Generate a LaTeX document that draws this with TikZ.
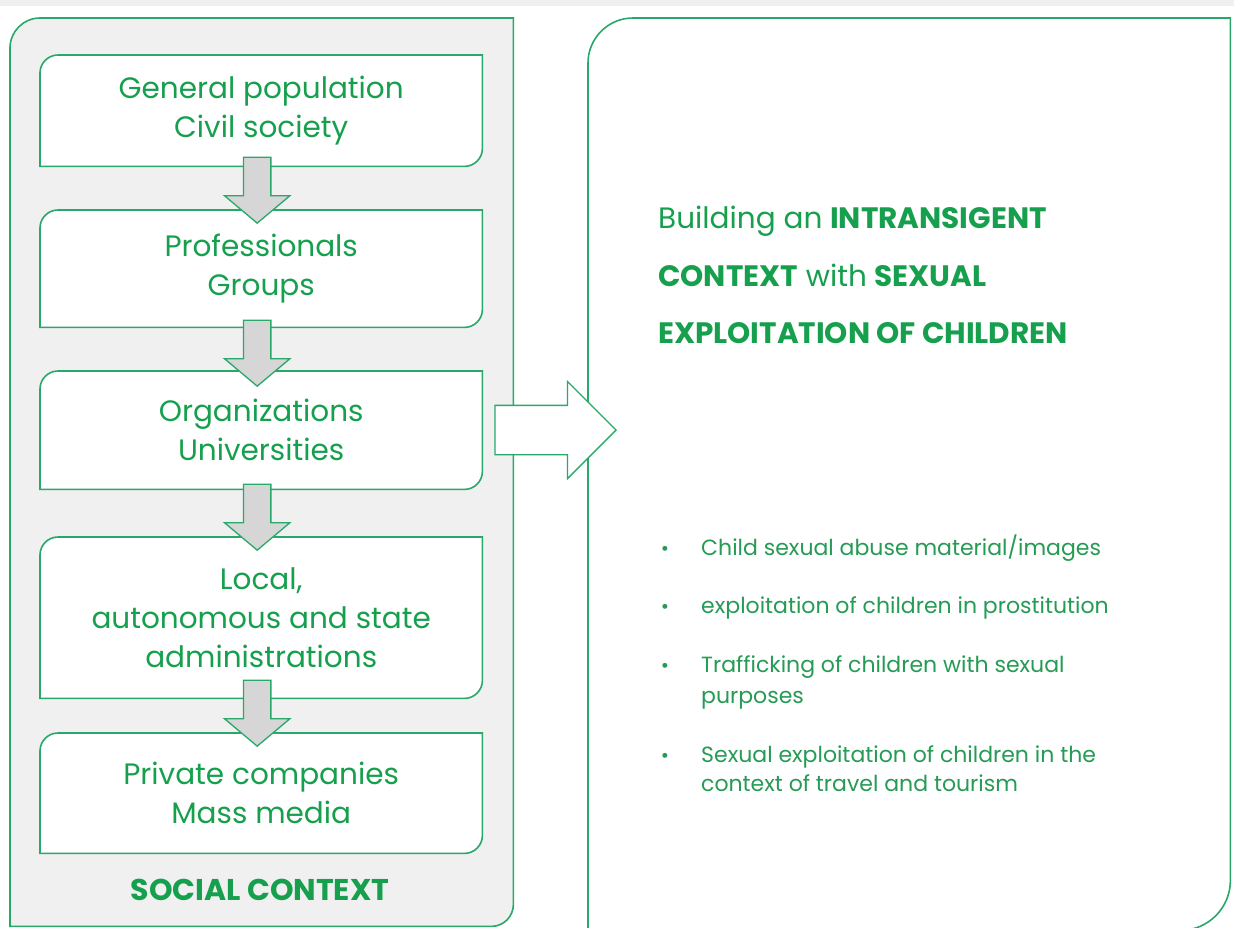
\documentclass[tikz,border=0pt]{standalone}
\usepackage{fontspec}
\setmainfont{Poppins}
\usetikzlibrary{shapes.arrows,calc}
\pgfdeclarelayer{bg}
\pgfsetlayers{bg,main}
\definecolor{txtgreen}{RGB}{22,160,78}
\definecolor{linegreen}{RGB}{40,168,105}
\definecolor{panelgrey}{RGB}{240,240,240}
\definecolor{arrowgrey}{RGB}{214,214,214}
\newcommand\diagframe[4]{%
  \filldraw[linegreen, line width=1.6pt, fill=#4] (#1.south west) -- ([yshift=-#2]#1.north west)
    arc[start angle=180,end angle=90,radius=#2] -- (#1.north east) -- ([yshift=#3]#1.south east)
    arc[start angle=0,end angle=-90,radius=#3] -- cycle;}
\tikzset{
  panel/.style={rectangle, draw=none, inner sep=0pt, anchor=north west},
  boxnode/.style={rectangle, inner sep=0pt, minimum width=442pt, anchor=north west,
    text=txtgreen, font=\fontsize{29.5}{39}\selectfont, align=center},
  downarr/.style={single arrow, draw=linegreen, fill=arrowgrey, line width=1.3pt, rotate=-90,
    minimum height=66pt, minimum width=64pt, single arrow head extend=19pt,
    inner xsep=0pt, inner ysep=13pt, single arrow tip angle=100, anchor=tip},
  rightarr/.style={single arrow, draw=linegreen, fill=white, line width=1.3pt,
    minimum height=121pt, minimum width=96pt, single arrow head extend=24pt,
    inner xsep=0pt, inner ysep=24pt, single arrow tip angle=90, anchor=tip},
  titletxt/.style={anchor=base west, inner sep=0pt, text=txtgreen, font=\fontsize{29.5}{32}\selectfont},
  bultxt/.style={anchor=base west, inner sep=0pt, text=txtgreen!85!gray, font=\fontsize{22}{29}\selectfont, align=left},
  bulmark/.style={anchor=base, inner sep=0pt, text=txtgreen!85!gray, font=\fontsize{20}{22}\selectfont},
}
\begin{document}
\begin{tikzpicture}[x=1pt,y=-1pt]
\useasboundingbox (0,0) rectangle (1234,927);
\clip (0,0) rectangle (1234,927);
\fill[gray!12] (0,0) rectangle (1234,6);
% panels
\node[panel, minimum width=503pt, minimum height=908pt] (soc) at (10,18) {};
\node[panel, minimum width=642pt, minimum height=912pt] (ctx) at (588,18) {};
% boxes
\node[boxnode, minimum height=111pt] (b1) at (40,55) {General population\\Civil society};
\node[boxnode, minimum height=117pt] (b2) at (40,210) {Professionals\\Groups};
\node[boxnode, minimum height=118pt] (b3) at (40,371) {Organizations\\Universities};
\node[boxnode, minimum height=161pt] (b4) at (40,537) {Local,\\autonomous and state\\administrations};
\node[boxnode, minimum height=120pt] (b5) at (40,733) {Private companies\\Mass media};
\node[anchor=base, inner sep=0pt, text=txtgreen, font=\fontsize{30}{32}\selectfont\bfseries] (lbl) at (260,900) {SOCIAL CONTEXT};
\begin{pgfonlayer}{bg}
  \diagframe{soc}{30pt}{22pt}{panelgrey}
  \diagframe{ctx}{45pt}{50pt}{white}
  \foreach \b in {b1,b2,b3,b4,b5} {\diagframe{\b}{18pt}{18pt}{white}}
\end{pgfonlayer}
% down arrows
\node[downarr] (a1) at ($(b2.north)+(-4,14)$) {};
\node[downarr] (a2) at ($(b3.north)+(-4,16)$) {};
\node[downarr] (a3) at ($(b4.north)+(-4,14)$) {};
\node[downarr] (a4) at ($(b5.north)+(-4,14)$) {};
% right arrow
\node[rightarr] (ra) at (617,430) {};
% title
\node[titletxt] (t1) at (658,228) {Building an \textbf{INTRANSIGENT}};
\node[titletxt] (t2) at (658,286) {\textbf{CONTEXT} with \textbf{SEXUAL}};
\node[titletxt] (t3) at (658,343) {\textbf{EXPLOITATION OF CHILDREN}};
% bullets
\node[bulmark] (m1) at (665,555) {\textbullet};
\node[bultxt] (i1) at (701,555) {Child sexual abuse material/images};
\node[bulmark] (m2) at (665,613) {\textbullet};
\node[bultxt] (i2) at (701,613) {exploitation of children in prostitution};
\node[bulmark] (m3) at (665,672) {\textbullet};
\node[bultxt] (i3) at (701,672) {Trafficking of children with sexual};
\node[bultxt] (i3b) at (701,703) {purposes};
\node[bulmark] (m4) at (665,762) {\textbullet};
\node[bultxt] (i4) at (701,762) {Sexual exploitation of children in the};
\node[bultxt] (i4b) at (701,791) {context of travel and tourism};
\end{tikzpicture}
\end{document}
